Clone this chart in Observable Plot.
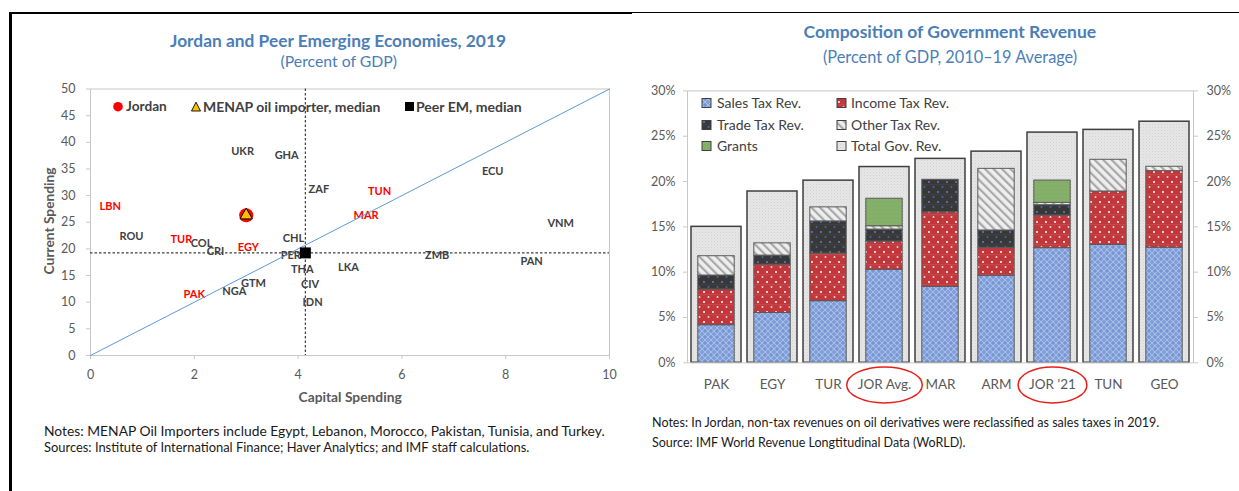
<!DOCTYPE html>
<html>
<head>
<meta charset="utf-8">
<script src="https://cdn.jsdelivr.net/npm/d3@7"></script>
<script src="https://cdn.jsdelivr.net/npm/@observablehq/plot@0.6"></script>
<style>
  body { margin: 0; background: #fff; }
  #page { position: relative; width: 1239px; height: 491px; overflow: hidden; background: #fff; font-family: Lato, "Open Sans", sans-serif; }
  .abs { position: absolute; white-space: nowrap; line-height: 1; }
  .chart { position: absolute; }
  .chart svg { overflow: visible; }
</style>
</head>
<body>
<div id="page">
  <div class="abs" style="left:9px;top:12px;width:623px;height:2px;background:#000"></div>
  <div class="abs" style="left:9px;top:12px;width:3px;height:479px;background:#000"></div>
  <div class="abs" style="left:631px;top:12px;width:608px;height:1px;background:#000"></div>
  <svg width="0" height="0" style="position:absolute">
    <defs>
      <pattern id="pSales" width="6" height="6" patternUnits="userSpaceOnUse">
        <rect width="6" height="6" fill="#819FD8"/>
        <path d="M0 3 L3 0 L6 3 L3 6 Z" fill="none" stroke="#ADC1E8" stroke-width="0.9"/>
        <circle cx="3" cy="3" r="0.7" fill="#5F81C6"/>
      </pattern>
      <pattern id="pIncome" width="9" height="10" patternUnits="userSpaceOnUse">
        <rect width="9" height="10" fill="#C2373B"/>
        <rect x="0" y="4.5" width="9" height="0.6" fill="#CD5457"/>
        <circle cx="2" cy="2" r="1" fill="#FFFFFF"/>
        <circle cx="6.5" cy="7" r="1" fill="#F4D3D3"/>
      </pattern>
      <pattern id="pTrade" width="9" height="10" patternUnits="userSpaceOnUse">
        <rect width="9" height="10" fill="#383838"/>
        <rect x="0" y="4.5" width="9" height="0.6" fill="#454545"/>
        <circle cx="2" cy="2" r="1" fill="#5E7EC4"/>
        <circle cx="6.5" cy="7" r="1" fill="#4A67A8"/>
      </pattern>
      <pattern id="pOther" width="6" height="6" patternUnits="userSpaceOnUse" patternTransform="rotate(-45)">
        <rect width="6" height="6" fill="#EEEEEE"/>
        <rect x="0" y="0" width="2.2" height="6" fill="#A8A8A8"/>
      </pattern>
      <pattern id="pGrants" width="4" height="4" patternUnits="userSpaceOnUse">
        <rect width="4" height="4" fill="#84B06A"/>
        <rect width="1" height="1" fill="#7AA761"/>
      </pattern>
      <pattern id="pTotal" width="3" height="3" patternUnits="userSpaceOnUse">
        <rect width="3" height="3" fill="#E6E6E6"/>
        <rect width="1" height="1" fill="#D2D2D2"/>
        <rect x="1.5" y="1.5" width="1" height="1" fill="#DADADA"/>
      </pattern>
    </defs>
  </svg>
</div>
<script>
// ---------------- LEFT CHART DATA ----------------
const peerCodes = ["UKR","GHA","ECU","ZAF","TUN","LBN","MAR","VNM","ROU","TUR","COL","CRI","EGY","CHL","PER","ZMB","PAN","THA","LKA","GTM","NGA","PAK","CIV","IDN"];
const capitalSpending = [2.93,3.78,7.75,4.40,5.57,0.38,5.31,9.06,0.79,1.75,2.14,2.41,3.04,3.91,3.86,6.68,8.50,4.08,4.97,3.14,2.77,2.00,4.23,4.28];
const currentSpending = [38.3,37.5,34.6,31.2,30.7,28.0,26.3,24.8,22.4,21.8,21.1,19.6,20.2,22.0,18.8,18.8,17.6,16.2,16.5,13.6,12.1,11.5,13.3,9.9];
const menapCodes = ["TUN","LBN","MAR","TUR","EGY","PAK"];
const jordan = [{capital: 3.0, current: 26.3}];
const menapMedian = [{capital: 3.0, current: 26.3}];
const peerMedian = [{capital: 4.14, current: 19.25}];
const diagonal = [{capital: 0, current: 0}, {capital: 10, current: 50}];
const xTicksLeft = [0, 2, 4, 6, 8, 10];
const yTicksLeft = [0, 5, 10, 15, 20, 25, 30, 35, 40, 45, 50];

// ---------------- RIGHT CHART DATA ----------------
const countries = ["PAK","EGY","TUR","JOR Avg.","MAR","ARM","JOR '21","TUN","GEO"];
const salesTax  = [4.15, 5.50, 6.80, 10.26, 8.38, 9.60, 12.65, 13.00, 12.70];
const incomeTax = [3.94, 5.33, 5.25, 3.12, 8.22, 3.09, 3.60, 5.90, 8.45];
const tradeTax  = [1.54, 1.00, 3.55, 1.32, 3.59, 1.91, 1.14, 0, 0];
const otherTax  = [2.13, 1.35, 1.55, 0.37, 0, 6.80, 0.26, 3.50, 0.48];
const grants    = [0, 0, 0, 3.03, 0, 0, 2.46, 0, 0];
const totalRev  = [15.0, 18.9, 20.1, 21.6, 22.5, 23.3, 25.4, 25.7, 26.6];
const seriesNames = ["Sales Tax Rev.","Income Tax Rev.","Trade Tax Rev.","Other Tax Rev.","Grants"];
const yTicksRight = [0, 5, 10, 15, 20, 25, 30];
const highlighted = ["JOR Avg.", "JOR '21"];

// ---------------- helpers ----------------
const page = document.getElementById("page");
const FONT = "Lato, 'Open Sans', sans-serif";
function label(txt, o) {
  const el = document.createElement("div");
  el.className = "abs";
  el.textContent = txt;
  el.style.fontFamily = FONT;
  el.style.fontWeight = o.bold ? "bold" : "normal";
  el.style.color = o.color || "#000";
  el.style.fontSize = (o.size || 14) + "px";
  page.appendChild(el);
  let size = o.size || 14;
  if (o.w) {
    size = size * o.w / el.offsetWidth;
    el.style.fontSize = size + "px";
  }
  const w = el.offsetWidth, h = el.offsetHeight;
  const left = o.anchor === "middle" ? o.x - w / 2 : o.anchor === "end" ? o.x - w : o.x;
  el.style.left = left + "px";
  el.style.top = (o.y - h / 2) + "px";
  if (o.rotate) { el.style.transformOrigin = "50% 50%"; el.style.transform = `rotate(${o.rotate}deg)`; }
  return size;
}

// ---------------- titles / notes ----------------
const BLUE = "#4B7EB8";
label("Jordan and Peer Emerging Economies, 2019", {x: 338, y: 40, w: 336, anchor: "middle", bold: true, color: BLUE, size: 16});
label("(Percent of GDP)", {x: 339, y: 60.5, w: 117, anchor: "middle", color: BLUE, size: 15});
label("Composition of Government Revenue", {x: 950, y: 32, w: 293, anchor: "middle", bold: true, color: BLUE, size: 17});
label("(Percent of GDP, 2010\u201319 Average)", {x: 950, y: 57, w: 254, anchor: "middle", color: BLUE, size: 16});

label("Notes: MENAP Oil Importers include Egypt, Lebanon, Morocco, Pakistan, Tunisia, and Turkey.", {x: 44, y: 431, w: 561, color: "#1a1a1a", size: 13});
label("Sources: Institute of International Finance; Haver Analytics; and IMF staff calculations.", {x: 44, y: 447.5, w: 486, color: "#1a1a1a", size: 13});
label("Notes: In Jordan, non-tax revenues on oil derivatives were reclassified as sales taxes in 2019.", {x: 652, y: 423, w: 508, color: "#1a1a1a", size: 12});
label("Source: IMF World Revenue Longtitudinal Data (WoRLD).", {x: 652, y: 443, w: 313, color: "#1a1a1a", size: 12});

label("Capital Spending", {x: 350, y: 397, w: 103, anchor: "middle", bold: true, color: "#595959", size: 13});
label("Current Spending", {x: 48, y: 221, w: 107, anchor: "middle", bold: true, color: "#595959", size: 13, rotate: -90});

// left legend
label("Jordan", {x: 126, y: 106.5, w: 41, bold: true, color: "#404040", size: 13});
label("MENAP oil importer, median", {x: 203, y: 106.5, w: 177, bold: true, color: "#404040", size: 13});
label("Peer EM, median", {x: 416, y: 106.5, w: 106, bold: true, color: "#404040", size: 13});
const legSym = document.createElementNS("http://www.w3.org/2000/svg", "svg");
legSym.setAttribute("width", "1239"); legSym.setAttribute("height", "491");
legSym.style.position = "absolute"; legSym.style.left = "0"; legSym.style.top = "0"; legSym.style.pointerEvents = "none"; legSym.style.zIndex = 5;
legSym.innerHTML = `
  <circle cx="118" cy="106.7" r="4.8" fill="#FF0000"/>
  <path d="M191.5 111 L200.5 111 L196 102.2 Z" fill="#FFC000" stroke="#000" stroke-width="0.9"/>
  <rect x="405" y="102" width="9" height="9" fill="#000"/>`;

// right legend
const rs = label("Sales Tax Rev.", {x: 717, y: 103, w: 84, color: "#404040", size: 14});
label("Income Tax Rev.", {x: 851, y: 103, color: "#404040", size: rs});
label("Trade Tax Rev.", {x: 717, y: 125, color: "#404040", size: rs});
label("Other Tax Rev.", {x: 851, y: 125, color: "#404040", size: rs});
label("Grants", {x: 717, y: 146, color: "#404040", size: rs});
label("Total Gov. Rev.", {x: 851, y: 146, color: "#404040", size: rs});
const swatches = [["pSales",702,103],["pIncome",837,103],["pTrade",702,125],["pOther",837,125],["pGrants",702,146],["pTotal",837,146]];
legSym.innerHTML += swatches.map(([id, x, y]) => `<rect x="${x}" y="${y-4.5}" width="9" height="9" fill="url(#${id})" stroke="#404040" stroke-width="1"/>`).join("");

// ---------------- LEFT CHART ----------------
const peers = peerCodes.map((c, i) => ({code: c, capital: capitalSpending[i], current: currentSpending[i], menap: menapCodes.includes(c)}));
const left = Plot.plot({
  width: 625, height: 340,
  marginLeft: 90, marginRight: 16, marginTop: 18.5, marginBottom: 55,
  x: {domain: [0, 10]},
  y: {domain: [0, 50]},
  style: {fontFamily: FONT, fontSize: "12px", color: "#595959", background: "transparent"},
  marks: [
    Plot.frame({stroke: "#C8C8C8"}),
    Plot.axisX({ticks: xTicksLeft, tickSize: 4, tickPadding: 11, stroke: "#C8C8C8", fill: "#595959", label: null, fontSize: 12.5}),
    Plot.axisY({ticks: yTicksLeft, tickSize: 4, tickPadding: 11, stroke: "#C8C8C8", fill: "#595959", label: null, fontSize: 12.5}),
    Plot.text(peers.filter(d => !d.menap), {x: "capital", y: "current", text: "code", fill: "#404040", fontWeight: "bold", fontSize: 11}),
    Plot.text(peers.filter(d => d.menap), {x: "capital", y: "current", text: "code", fill: "#FF0000", fontWeight: "bold", fontSize: 11}),
    Plot.line(diagonal, {x: "capital", y: "current", stroke: "#5B9BD5", strokeWidth: 1}),
    Plot.ruleX(peerMedian, {x: "capital", stroke: "#404040", strokeWidth: 1.2, strokeDasharray: "2.5,2"}),
    Plot.ruleY(peerMedian, {y: "current", stroke: "#404040", strokeWidth: 1.2, strokeDasharray: "2.5,2"}),
    Plot.dot(jordan, {x: "capital", y: "current", r: 7, fill: "#FF0000", stroke: "none"}),
    Plot.dot(menapMedian, {x: "capital", y: "current", symbol: "triangle", r: 4.6, fill: "#FFC000", stroke: "#000", strokeWidth: 1}),
    Plot.dot(peerMedian, {x: "capital", y: "current", symbol: "square", r: 6.2, fill: "#000", stroke: "none"})
  ]
});
const leftWrap = document.createElement("div");
leftWrap.className = "chart"; leftWrap.style.left = "0px"; leftWrap.style.top = "70px";
leftWrap.appendChild(left);
page.appendChild(leftWrap);

// ---------------- RIGHT CHART ----------------
const seriesArrays = [salesTax, incomeTax, tradeTax, otherTax, grants];
const components = seriesNames.flatMap((s, i) => countries.map((c, j) => ({country: c, series: s, value: seriesArrays[i][j]}))).filter(d => d.value > 0);
const totals = countries.map((c, j) => ({country: c, total: totalRev[j]}));
const right = Plot.plot({
  width: 609, height: 330,
  marginLeft: 57, marginRight: 46, marginTop: 20.4, marginBottom: 37.7,
  x: {domain: countries, paddingInner: 0.1, paddingOuter: 0.05},
  y: {domain: [0, 30]},
  color: {type: "ordinal", domain: seriesNames, range: ["url(#pSales)","url(#pIncome)","url(#pTrade)","url(#pOther)","url(#pGrants)"]},
  style: {fontFamily: FONT, fontSize: "12px", color: "#595959", background: "transparent"},
  marks: [
    Plot.barY(totals, {x: "country", y: "total", fill: "url(#pTotal)", stroke: "#3F3F3F", strokeWidth: 1.5}),
    Plot.barY(components, Plot.stackY({x: "country", y: "value", fill: "series", order: seriesNames, insetLeft: 6.8, insetRight: 6.8, stroke: "#5A5A5A", strokeWidth: 1})),
    Plot.frame({stroke: "#C8C8C8"}),
    Plot.axisY({anchor: "left", ticks: yTicksRight, tickFormat: d => d + "%", tickSize: 4, tickPadding: 8, stroke: "#C8C8C8", fill: "#595959", label: null, fontSize: 12.5}),
    Plot.axisY({anchor: "right", ticks: yTicksRight, tickFormat: d => d + "%", tickSize: 4, tickPadding: 9, stroke: "#C8C8C8", fill: "#595959", label: null, fontSize: 12.5}),
    Plot.axisX({tickSize: 0, tickPadding: 17, fill: "#595959", label: null, fontSize: 13.5})
  ]
});
const rightWrap = document.createElement("div");
rightWrap.className = "chart"; rightWrap.style.left = "630px"; rightWrap.style.top = "70px";
rightWrap.appendChild(right);
page.appendChild(rightWrap);
page.appendChild(legSym);

// red ellipses around highlighted category labels
const pageRect = page.getBoundingClientRect();
right.querySelectorAll("text").forEach(t => {
  if (highlighted.includes(t.textContent)) {
    const r = t.getBoundingClientRect();
    const cx = r.left + r.width / 2 - pageRect.left, cy = r.top + r.height / 2 - pageRect.top;
    const e = document.createElementNS("http://www.w3.org/2000/svg", "ellipse");
    e.setAttribute("cx", cx); e.setAttribute("cy", cy + 0.5);
    e.setAttribute("rx", r.width / 2 + 11); e.setAttribute("ry", 18);
    e.setAttribute("fill", "none"); e.setAttribute("stroke", "#E8201C"); e.setAttribute("stroke-width", 1.5);
    legSym.appendChild(e);
  }
});
</script>
</body>
</html>
